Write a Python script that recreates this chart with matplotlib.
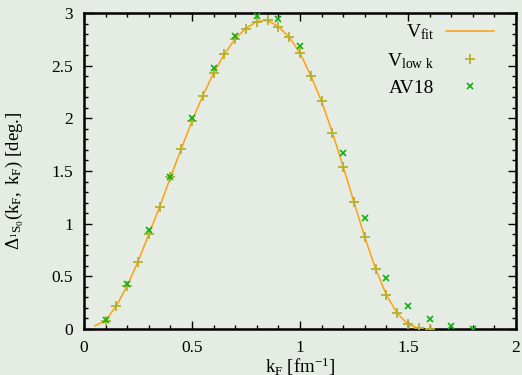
import numpy as np
import matplotlib
matplotlib.use("Agg")
import matplotlib.pyplot as plt
from matplotlib.ticker import MultipleLocator

plt.rcParams['font.family'] = ['Liberation Serif', 'DejaVu Serif']
plt.rcParams['mathtext.fontset'] = 'custom'
plt.rcParams['mathtext.rm'] = 'Liberation Serif'
plt.rcParams['mathtext.it'] = 'Liberation Serif:italic'
plt.rcParams['mathtext.bf'] = 'Liberation Serif:bold'

# V_fit curve
fit_k = [0.05, 0.10, 0.15, 0.20, 0.25, 0.30, 0.35, 0.40, 0.45, 0.50, 0.55,
         0.60, 0.65, 0.70, 0.75, 0.80, 0.85, 0.90, 0.95, 1.00, 1.05, 1.10,
         1.15, 1.20, 1.25, 1.30, 1.35, 1.40, 1.45, 1.50, 1.55, 1.60]
fit_v = [0.03, 0.08, 0.22, 0.41, 0.64, 0.90, 1.16, 1.44, 1.71, 1.975, 2.215,
         2.43, 2.61, 2.757, 2.855, 2.92, 2.93, 2.87, 2.77, 2.62, 2.405, 2.16,
         1.865, 1.54, 1.203, 0.87, 0.57, 0.323, 0.149, 0.045, 0.007, 0.0]

# V_low k points
lowk_k = [0.10, 0.15, 0.20, 0.25, 0.30, 0.35, 0.40, 0.45, 0.50, 0.55,
          0.60, 0.65, 0.70, 0.75, 0.80, 0.85, 0.90, 0.95, 1.00, 1.05, 1.10,
          1.15, 1.20, 1.25, 1.30, 1.35, 1.40, 1.45, 1.50, 1.55, 1.60]
lowk_v = [0.076, 0.218, 0.408, 0.636, 0.90, 1.16, 1.44, 1.71, 1.975, 2.215,
          2.43, 2.61, 2.757, 2.85, 2.915, 2.93, 2.87, 2.77, 2.62, 2.405, 2.16,
          1.865, 1.54, 1.203, 0.87, 0.57, 0.323, 0.149, 0.045, 0.007, 0.0]

# AV18 points
av18_k = [0.1, 0.2, 0.3, 0.4, 0.5, 0.6, 0.7, 0.8, 0.9, 1.0,
          1.2, 1.3, 1.4, 1.5, 1.6, 1.7, 1.8]
av18_v = [0.085, 0.425, 0.94, 1.446, 2.007, 2.475, 2.785, 2.975, 2.944, 2.69,
          1.668, 1.054, 0.48, 0.218, 0.095, 0.03, 0.003]

bg = '#e5ece3'
fig = plt.figure(figsize=(5.22, 3.75), dpi=100, facecolor=bg)
ax = fig.add_axes([0.161, 0.1227, 0.8275, 0.8426])
ax.set_facecolor(bg)

ax.plot(fit_k, fit_v, color='#ffa010', lw=1.1, label=r'$\mathrm{V_{fit}}$', zorder=2)
ax.plot(lowk_k, lowk_v, ls='none', marker='+', ms=7.5, mew=1.3, color='#b4b030',
        label=r'$\mathrm{V_{low\ k}}$', zorder=3)
ax.plot(av18_k, av18_v, ls='none', marker='x', ms=4.2, mew=1.2, color='#10b010',
        label='AV18', zorder=4)

ax.set_xlim(0, 2)
ax.set_ylim(0, 3)
ax.xaxis.set_major_locator(MultipleLocator(0.5))
ax.xaxis.set_minor_locator(MultipleLocator(0.1))
ax.yaxis.set_major_locator(MultipleLocator(0.5))
ax.yaxis.set_minor_locator(MultipleLocator(0.1))
ax.xaxis.set_major_formatter(plt.FuncFormatter(lambda v, p: f'{v:g}'))
ax.yaxis.set_major_formatter(plt.FuncFormatter(lambda v, p: f'{v:g}'))
ax.tick_params(which='both', direction='in', top=True, right=True, labelsize=12.5)
ax.tick_params(which='major', length=6, width=1)
ax.tick_params(which='minor', length=3, width=1)
ax.tick_params(axis='x', pad=8)
ax.tick_params(axis='y', pad=8)
for s in ax.spines.values():
    s.set_linewidth(1.8)

ax.set_xlabel(r'$\mathrm{k_F}$ [fm$^{\mathrm{-1}}$]', fontsize=13.5, labelpad=0)
ax.set_ylabel(r'$\Delta_{{}^{1}\mathrm{S}_0}(\mathrm{k_F,\ k_F})$ [deg.]', fontsize=13.5, labelpad=14)
ax.yaxis.set_label_coords(-0.135, 0.47)

leg = ax.legend(loc='upper right', bbox_to_anchor=(0.9676, 0.9937), borderaxespad=0,
                markerfirst=False, frameon=False, fontsize=14,
                handlelength=2.47, handletextpad=0.62, labelspacing=0.45)

fig.savefig('out.png', dpi=100, facecolor=bg)
